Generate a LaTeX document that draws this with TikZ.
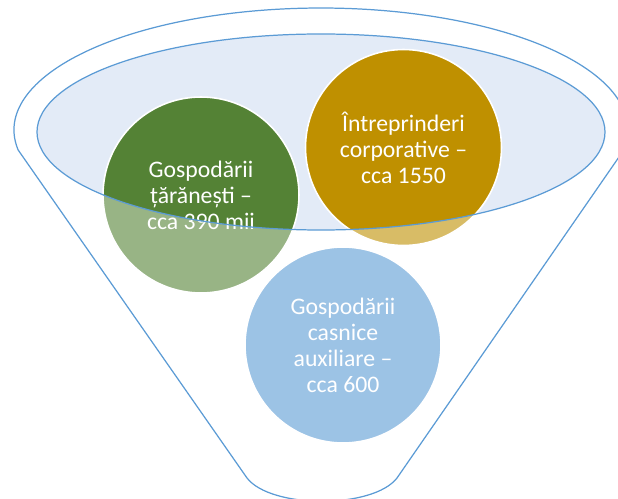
\documentclass[tikz,border=0pt]{standalone}
\usepackage{fontspec}
\setmainfont{Carlito}
\usepackage{xcolor}
\definecolor{funnelline}{HTML}{5B9BD5}
\definecolor{mouth}{RGB}{227,235,247}
\definecolor{farm}{HTML}{548235}
\definecolor{firm}{HTML}{BF9000}
\definecolor{household}{HTML}{5B9BD5}
\usetikzlibrary{positioning}

% outline of the funnel body
\newcommand{\funnelbody}{(18.15,150) arc[start angle=170.57, end angle=369.43, x radius=307, y radius=122]
    -- (397,478) .. controls (373,509) and (271,509) .. (247,478) -- cycle}

\begin{document}
\begin{tikzpicture}[x=0.02cm, y=-0.02cm,
    ball/.style={circle, draw=white, line width=0.9pt, minimum size=3.92cm, inner sep=0pt,
        text=white, align=center, font=\fontsize{13.5}{14.75}\selectfont}]
    \useasboundingbox (0,0) rectangle (618,499);
    \clip (0,0) rectangle (618,499);

    \fill[mouth] (321,132) ellipse [x radius=284, y radius=98];

    \node[ball, fill=farm] (farm) at (201,195) {Gospodării\\țărănești –\\cca 390 mii};
    \node[ball, fill=firm] (firm) at (403.5,147.5) {Întreprinderi\\corporative –\\cca 1550};
    \node[ball, fill=household] (household) at (343,345) {Gospodării\\casnice\\auxiliare –\\cca 600};

    % pale body over the balls
    \fill[white, fill opacity=0.4, even odd rule] \funnelbody (321,132) ellipse [x radius=284, y radius=98];

    \draw[funnelline, line width=0.7pt] \funnelbody;
    \draw[funnelline, line width=0.7pt] (321,132) ellipse [x radius=284, y radius=98];

\end{tikzpicture}
\end{document}
